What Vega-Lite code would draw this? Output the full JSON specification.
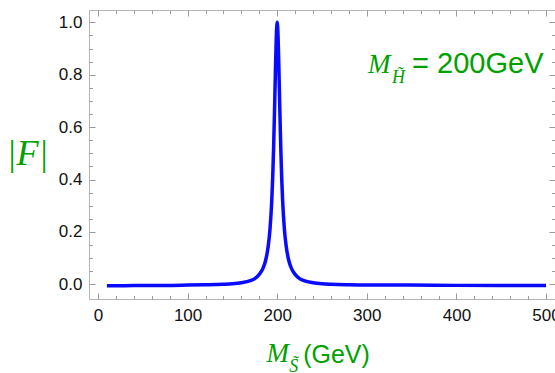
{
  "$schema": "https://vega.github.io/schema/vega-lite/v6.json",
  "width": 466,
  "height": 289,
  "autosize": {"type": "none"},
  "padding": {"left": 89, "top": 10, "right": 0, "bottom": 74},
  "background": "white",
  "config": {
    "view": {"stroke": "#b4b4b4", "strokeWidth": 1},
    "axis": {
      "domain": false,
      "grid": false,
      "tickColor": "#9a9a9a",
      "tickWidth": 1,
      "labelFont": "Liberation Sans",
      "labelFontSize": 17,
      "labelColor": "#111111"
    }
  },
  "data": {
    "values": [
      {"x": 10, "y": -0.005}, {"x": 30, "y": -0.005}, {"x": 50, "y": -0.004}, {"x": 80, "y": -0.004},
      {"x": 100, "y": -0.003}, {"x": 120, "y": -0.002}, {"x": 140, "y": 0.0}, {"x": 150, "y": 0.002},
      {"x": 160, "y": 0.006}, {"x": 170, "y": 0.014}, {"x": 175, "y": 0.022}, {"x": 180, "y": 0.038},
      {"x": 184, "y": 0.06}, {"x": 187, "y": 0.09}, {"x": 190, "y": 0.146}, {"x": 192, "y": 0.212},
      {"x": 194, "y": 0.324}, {"x": 195, "y": 0.409}, {"x": 196, "y": 0.52}, {"x": 197, "y": 0.658},
      {"x": 198, "y": 0.811}, {"x": 199, "y": 0.944}, {"x": 200, "y": 1.0}, {"x": 201, "y": 0.944},
      {"x": 202, "y": 0.811}, {"x": 203, "y": 0.658}, {"x": 204, "y": 0.52}, {"x": 205, "y": 0.409},
      {"x": 206, "y": 0.324}, {"x": 208, "y": 0.212}, {"x": 210, "y": 0.146}, {"x": 213, "y": 0.09},
      {"x": 216, "y": 0.06}, {"x": 220, "y": 0.038}, {"x": 225, "y": 0.022}, {"x": 230, "y": 0.014},
      {"x": 240, "y": 0.006}, {"x": 250, "y": 0.002}, {"x": 260, "y": 0.0}, {"x": 280, "y": -0.002},
      {"x": 300, "y": -0.003}, {"x": 350, "y": -0.003}, {"x": 400, "y": -0.004}, {"x": 450, "y": -0.004},
      {"x": 500, "y": -0.004}
    ]
  },
  "layer": [
    {
      "mark": {"type": "line", "color": "#0a0aff", "strokeWidth": 3.5, "interpolate": "monotone"},
      "encoding": {
        "x": {
          "field": "x", "type": "quantitative",
          "scale": {"domain": [-10, 510], "nice": false, "zero": false},
          "axis": {
            "orient": "bottom", "values": [0, 100, 200, 300, 400, 500], "tickSize": -6, "labelPadding": 14,
            "title": "(GeV)", "titleFont": "Liberation Sans", "titleFontSize": 25, "titleFontWeight": "normal",
            "titleColor": "#00a000", "titleX": 247, "titleY": 63, "titleBaseline": "alphabetic", "titleAlign": "center"
          }
        },
        "y": {
          "field": "y", "type": "quantitative",
          "scale": {"domain": [-0.056, 1.047], "nice": false, "zero": false},
          "axis": {
            "orient": "left", "values": [0, 0.2, 0.4, 0.6, 0.8, 1.0], "format": ".1f", "tickSize": -6, "labelPadding": 13,
            "title": "|F|", "titleFont": "Liberation Serif", "titleFontStyle": "italic", "titleFontSize": 36,
            "titleFontWeight": "normal", "titleColor": "#00a000", "titleAngle": 0, "titleX": -62, "titleY": 143,
            "titleBaseline": "middle", "titleAlign": "center"
          }
        }
      }
    },
    {
      "mark": {"type": "line", "strokeOpacity": 0},
      "encoding": {
        "x": {
          "field": "x", "type": "quantitative",
          "scale": {"domain": [-10, 510], "nice": false, "zero": false},
          "axis": {"orient": "top", "values": [0, 100, 200, 300, 400, 500], "tickSize": -6, "labels": false, "title": null}
        },
        "y": {
          "field": "y", "type": "quantitative",
          "scale": {"domain": [-0.056, 1.047], "nice": false, "zero": false},
          "axis": {"orient": "right", "values": [0, 0.2, 0.4, 0.6, 0.8, 1.0], "tickSize": -6, "labels": false, "title": null}
        }
      }
    },
    {
      "mark": {"type": "line", "strokeOpacity": 0},
      "encoding": {
        "x": {
          "field": "x", "type": "quantitative",
          "scale": {"domain": [-10, 510], "nice": false, "zero": false},
          "axis": {"orient": "bottom", "values": [20, 40, 60, 80, 120, 140, 160, 180, 220, 240, 260, 280, 320, 340, 360, 380, 420, 440, 460, 480], "tickSize": -3.5, "labels": false, "title": null}
        },
        "y": {
          "field": "y", "type": "quantitative",
          "scale": {"domain": [-0.056, 1.047], "nice": false, "zero": false},
          "axis": {"orient": "left", "values": [0.05, 0.1, 0.15, 0.25, 0.3, 0.35, 0.45, 0.5, 0.55, 0.65, 0.7, 0.75, 0.85, 0.9, 0.95], "tickSize": -3.5, "labels": false, "title": null}
        }
      }
    },
    {
      "mark": {"type": "line", "strokeOpacity": 0},
      "encoding": {
        "x": {
          "field": "x", "type": "quantitative",
          "scale": {"domain": [-10, 510], "nice": false, "zero": false},
          "axis": {"orient": "top", "values": [20, 40, 60, 80, 120, 140, 160, 180, 220, 240, 260, 280, 320, 340, 360, 380, 420, 440, 460, 480], "tickSize": -3.5, "labels": false, "title": null}
        },
        "y": {
          "field": "y", "type": "quantitative",
          "scale": {"domain": [-0.056, 1.047], "nice": false, "zero": false},
          "axis": {"orient": "right", "values": [0.05, 0.1, 0.15, 0.25, 0.3, 0.35, 0.45, 0.5, 0.55, 0.65, 0.7, 0.75, 0.85, 0.9, 0.95], "tickSize": -3.5, "labels": false, "title": null}
        }
      }
    },
    {
      "data": {"values": [{}]},
      "mark": {"type": "text", "text": "M", "font": "Liberation Serif", "fontStyle": "italic", "fontSize": 27, "color": "#00a000", "align": "center", "baseline": "alphabetic"},
      "encoding": {
        "x": {"datum": 314, "type": "quantitative", "axis": null},
        "y": {"datum": 0.806, "type": "quantitative", "axis": null}
      }
    },
    {
      "data": {"values": [{}]},
      "mark": {"type": "text", "text": "H̃", "font": "Liberation Serif", "fontStyle": "italic", "fontSize": 18, "color": "#00a000", "align": "center", "baseline": "alphabetic"},
      "encoding": {
        "x": {"datum": 335.5, "type": "quantitative", "axis": null},
        "y": {"datum": 0.768, "type": "quantitative", "axis": null}
      }
    },
    {
      "data": {"values": [{}]},
      "mark": {"type": "text", "text": "= 200GeV", "font": "Liberation Sans", "fontSize": 29, "color": "#00a000", "align": "left", "baseline": "alphabetic"},
      "encoding": {
        "x": {"datum": 350.5, "type": "quantitative", "axis": null},
        "y": {"datum": 0.806, "type": "quantitative", "axis": null}
      }
    },
    {
      "data": {"values": [{}]},
      "mark": {"type": "text", "text": "M", "font": "Liberation Serif", "fontStyle": "italic", "fontSize": 27, "color": "#00a000", "align": "center", "baseline": "alphabetic"},
      "encoding": {
        "x": {"datum": 200.5, "type": "quantitative", "axis": null},
        "y": {"datum": -0.297, "type": "quantitative", "axis": null}
      }
    },
    {
      "data": {"values": [{}]},
      "mark": {"type": "text", "text": "S̃", "font": "Liberation Serif", "fontStyle": "italic", "fontSize": 18, "color": "#00a000", "align": "center", "baseline": "alphabetic"},
      "encoding": {
        "x": {"datum": 218.5, "type": "quantitative", "axis": null},
        "y": {"datum": -0.335, "type": "quantitative", "axis": null}
      }
    }
  ],
  "resolve": {"axis": {"x": "independent", "y": "independent"}}
}
